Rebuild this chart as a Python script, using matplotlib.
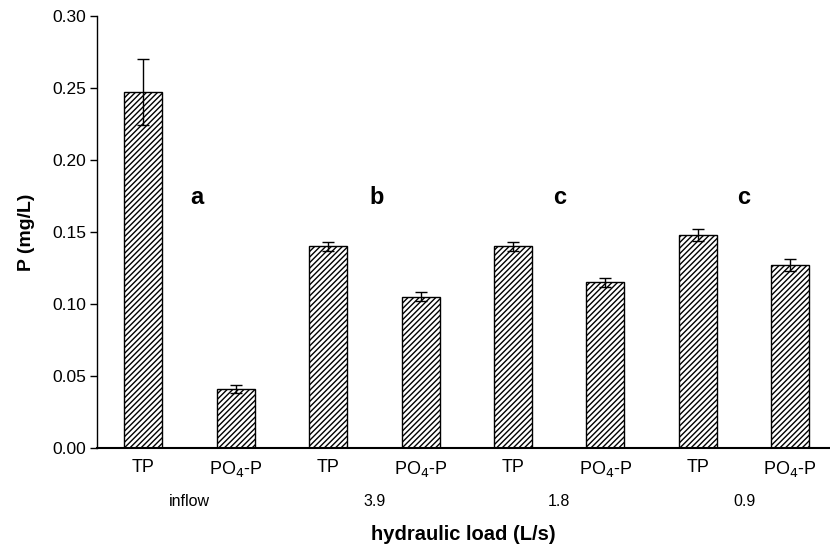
import matplotlib.pyplot as plt
import numpy as np

plt.rcParams['font.family'] = ['Liberation Sans', 'DejaVu Sans']
plt.rcParams['hatch.linewidth'] = 1.0

# phosphorus concentrations per hydraulic load
bar_labels = ['TP', 'PO$_4$-P', 'TP', 'PO$_4$-P', 'TP', 'PO$_4$-P', 'TP', 'PO$_4$-P']
values = [0.247, 0.041, 0.140, 0.105, 0.140, 0.115, 0.148, 0.127]
errors = [0.023, 0.003, 0.003, 0.003, 0.003, 0.003, 0.004, 0.004]
loads = ['inflow', '3.9', '1.8', '0.9']
letters = ['a', 'b', 'c', 'c']

fig = plt.figure(figsize=(8.3, 5.49), dpi=100)
ax = fig.add_axes([0.117, 0.184, 0.883, 0.787])

x = np.arange(len(values))
ax.bar(x, values, width=0.41, color='white', edgecolor='black',
       hatch='//////', linewidth=1.0, zorder=2)
ax.errorbar(x, values, yerr=errors, fmt='none', ecolor='black',
            elinewidth=1.0, capsize=4, capthick=1.0, zorder=3)

ax.set_xlim(-0.5, 7.43)
ax.set_ylim(0, 0.30)
ax.set_yticks(np.arange(0, 0.31, 0.05))
ax.set_yticklabels(['%.2f' % v for v in np.arange(0, 0.31, 0.05)], fontsize=12.5)
ax.set_xticks(x)
ax.set_xticklabels(bar_labels, fontsize=13)
ax.tick_params(axis='x', length=0, pad=8)
ax.tick_params(axis='y', length=5, direction='out', width=1, pad=3)

for s in ['top', 'right']:
    ax.spines[s].set_visible(False)
ax.spines['left'].set_linewidth(1.0)
ax.spines['bottom'].set_linewidth(1.5)

# significance letters and group labels
letter_x = [0.58, 2.52, 4.51, 6.5]
for lx, t in zip(letter_x, letters):
    ax.text(lx, 0.174, t, ha='center', va='center', fontsize=17, fontweight='bold')

for i, lab in enumerate(loads):
    ax.text(2 * i + 0.5, -0.0375, lab, ha='center', va='center', fontsize=11.5)

ax.set_ylabel('P (mg/L)', fontsize=14, fontweight='bold', labelpad=12)
ax.set_xlabel('hydraulic load (L/s)', fontsize=14.5, fontweight='bold', labelpad=33)

plt.savefig('out.png', dpi=100)
